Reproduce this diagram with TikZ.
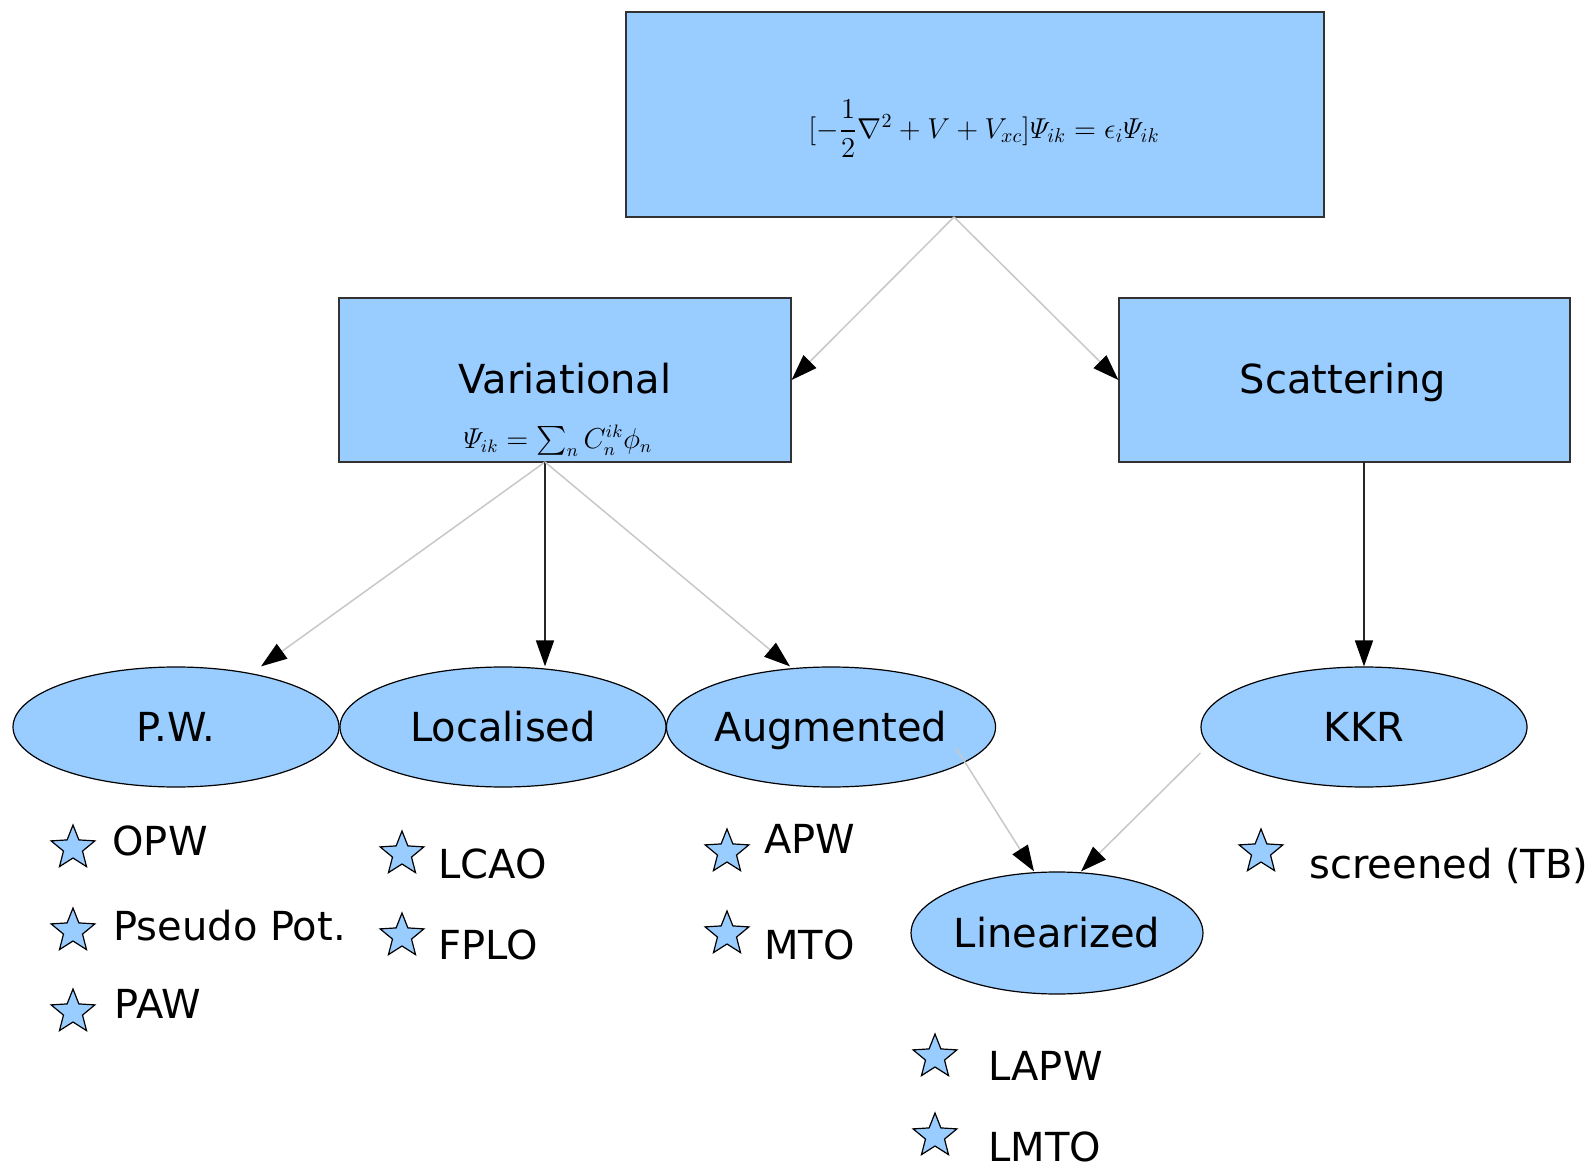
\documentclass[tikz,border=0pt]{standalone}
\usepackage{amsmath}
\usepackage{fontspec}
\setmainfont{DejaVu Sans}
\usetikzlibrary{shapes.geometric,arrows.meta,calc}
\definecolor{boxblue}{HTML}{99CCFF}
\definecolor{lightline}{HTML}{C8C8C8}
\tikzset{
  boxnode/.style={draw=black!80, fill=boxblue, line width=0.6pt, inner sep=0pt},
  ellnode/.style={ellipse, draw=black, fill=boxblue, line width=0.6pt, inner sep=0pt,
                  minimum width=163pt, minimum height=60pt, font=\fontsize{20}{24}\selectfont,
                  text height=14.6pt, text depth=0pt},
  bigtext/.style={font=\fontsize{20}{24}\selectfont, inner sep=0pt, text height=14.6pt, text depth=0pt},
  starnode/.style={star, star points=5, star point ratio=2.3, draw=black, fill=boxblue,
                   line width=0.6pt, minimum size=23pt, inner sep=0pt},
  lbl/.style={anchor=base west, font=\fontsize{20}{24}\selectfont, inner sep=0pt},
  grayarrow/.style={draw=lightline, line width=0.75pt, -{Triangle[length=13pt,width=9pt,color=black]}},
  blackarrow/.style={draw=black!85, line width=0.75pt, -{Triangle[length=13pt,width=9pt,color=black]}}
}
\begin{document}
\begin{tikzpicture}[x=0.5pt,y=-0.5pt]
\useasboundingbox (0,0) rectangle (1595,1165);
\fill[white] (0,0) rectangle (1595,1165);

% boxes
\node[boxnode, minimum width=349pt, minimum height=102.5pt] (top) at (975,114.5) {};
\node[inner sep=0pt, font=\fontsize{14.5}{17}\selectfont] (eq) at (984,129)
  {$[-\dfrac{1}{2}\nabla^2+V+V_{xc}]\varPsi_{ik}=\epsilon_i\varPsi_{ik}$};

\node[boxnode, minimum width=226pt, minimum height=82pt] (var) at (565,380) {};
\node[bigtext] (vart) at (565,379) {Variational};
\node[inner sep=0pt, font=\fontsize{13.5}{16}\selectfont] (varf) at (558,441)
  {$\varPsi_{ik}=\sum_n C_n^{ik}\phi_n$};

\node[boxnode, minimum width=225.5pt, minimum height=82pt] (scat) at (1344.5,380) {};
\node[bigtext] (scatt) at (1343,379) {Scattering};

% ellipses
\node[ellnode] (pw) at (176,727) {P.W.};
\node[ellnode] (loc) at (503,727) {Localised};
\node[ellnode] (aug) at (831,727) {Augmented};
\node[ellnode] (kkr) at (1364,727) {KKR};
\node[ellnode, minimum width=143pt, minimum height=61pt] (lin) at (1057,933) {Linearized};

% connector endpoints
\coordinate (tops) at (954,217);
\coordinate (vars) at (545,462);
\coordinate (scats) at (1364,462);
\coordinate (augin) at ($(aug.center)+(125,21)$);
\coordinate (kkrin) at ($(kkr.west)+(0,26)$);

% connectors
\draw[grayarrow] (tops) -- (var.east);
\draw[grayarrow] (tops) -- (scat.west);
\draw[grayarrow] (vars) -- ($(pw.north)+(85,0)$);
\draw[blackarrow] (vars) -- (vars |- loc.north);
\draw[grayarrow] (vars) -- ($(aug.north)+(-41,0)$);
\draw[blackarrow] (scats) -- (kkr.north);
\draw[grayarrow] (augin) -- ($(lin.north)+(-23,0)$);
\draw[grayarrow] (kkrin) -- ($(lin.north)+(24,0)$);

% stars and labels
\node[starnode] (s1) at (73,848) {};  \node[lbl] (l1) at (112,855) {OPW};
\node[starnode] (s2) at (73,931) {};  \node[lbl] (l2) at (113,940) {Pseudo Pot.};
\node[starnode] (s3) at (73,1012) {}; \node[lbl] (l3) at (114,1018) {PAW};
\node[starnode] (s4) at (402,854) {}; \node[lbl] (l4) at (438,878) {LCAO};
\node[starnode] (s5) at (402,936) {}; \node[lbl] (l5) at (438,959) {FPLO};
\node[starnode] (s6) at (727,852) {}; \node[lbl] (l6) at (764,853) {APW};
\node[starnode] (s7) at (727,934) {}; \node[lbl] (l7) at (764,959) {MTO};
\node[starnode] (s8) at (1261,852) {}; \node[lbl] (l8) at (1309,878) {screened (TB)};
\node[starnode] (s9) at (935,1057) {}; \node[lbl] (l9) at (988,1080) {LAPW};
\node[starnode] (s10) at (935,1136) {}; \node[lbl] (l10) at (988,1161) {LMTO};
\end{tikzpicture}
\end{document}
